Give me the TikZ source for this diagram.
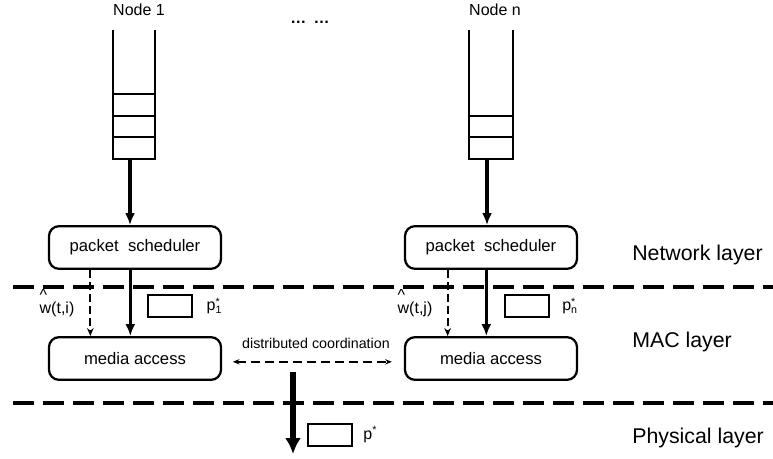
\documentclass[tikz,border=0pt]{standalone}
\usepackage{fontspec}
\setmainfont{Liberation Sans}
\usetikzlibrary{arrows.meta,positioning}

\begin{document}
\begin{tikzpicture}[x=0.75pt,y=-0.75pt]
    \tikzset{
        block/.style = {rectangle, draw, line width=1.7pt, rounded corners=7.5pt, minimum width=129pt, minimum height=32pt, font=\fontsize{12.5}{14}\selectfont},
        tag/.style = {rectangle, draw, line width=1.5pt, minimum width=33pt, minimum height=16.5pt, inner sep=0pt},
        lbl/.style = {font=\fontsize{12}{14}\selectfont, inner sep=0pt},
        layerlbl/.style = {font=\fontsize{16}{19}\selectfont, anchor=west, inner sep=0pt},
        layer/.style = {draw, line width=2.3pt, dash pattern=on 15.75pt off 6.75pt},
        queue/.style = {draw, line width=1.9pt},
        line/.style = {draw, line width=2.4pt, -{Latex[length=9pt,width=7.5pt]}},
        dline/.style = {draw, line width=1.5pt, dash pattern=on 6pt off 3pt, -{Stealth[length=6pt,width=5pt]}},
        cline/.style = {draw, line width=1.4pt, dash pattern=on 7pt off 3.5pt, {Stealth[length=5pt,width=4pt]}-{Stealth[length=5pt,width=4pt]}},
        bigline/.style = {draw, line width=5pt, -{Latex[length=12pt,width=12pt]}}
    }
    \useasboundingbox (0,0) rectangle (773,459);

    % node names and queues
    \node[lbl](n_1) at (139,10){Node 1};
    \node[lbl](n_n) at (495,10){Node n};
    \node[lbl](dots) at (310,22){\bfseries …\ \,…};

    \draw[queue] (113,30) -- (113,159) -- (155,159) -- (155,30);
    \foreach \y in {94,116,137}
        \draw[queue] (113,\y) -- (155,\y);
    \coordinate (q_1) at (130,159);

    \draw[queue] (469,30) -- (469,159) -- (513,159) -- (513,30);
    \foreach \y in {116,137}
        \draw[queue] (469,\y) -- (513,\y);
    \coordinate (q_n) at (487,159);

    % layer boundaries
    \draw[layer] (13,287) -- (773,287);
    \draw[layer] (13,403) -- (773,403);

    % blocks
    \node[block](ps_1) at (135,247.5){packet\ \ scheduler};
    \node[block](ma_1) at (135,358.5){media access};
    \node[block](ps_n) at (491,247.5){packet\ \ scheduler};
    \node[block](ma_n) at (491,358.5){media access};

    \path [line] (q_1) -- (ps_1.north -| q_1);
    \path [line] (q_n) -- (ps_n.north -| q_n);

    \path [line] ([xshift=-3.5pt]ps_1.south) -- ([xshift=-3.5pt]ma_1.north);
    \path [dline] ([xshift=-33.5pt]ps_1.south) -- ([xshift=-33.5pt]ma_1.north);
    \path [line] ([xshift=-3.5pt]ps_n.south) -- ([xshift=-3.5pt]ma_n.north);
    \path [dline] ([xshift=-32.5pt]ps_n.south) -- ([xshift=-32.5pt]ma_n.north);

    \node[lbl](w_1) at (57,303){\rlap{\raisebox{1.6ex}{\^{}}}w(t,i)};
    \node[lbl](w_n) at (415,303){\rlap{\raisebox{1.6ex}{\^{}}}w(t,j)};

    \node[tag](t_1) at (170,306){};
    \node[lbl](p_1)[right = 10pt of t_1]{p\rlap{\textsuperscript{*}}\textsubscript{1}};
    \node[tag](t_n) at (527,306){};
    \node[lbl](p_n)[right = 9pt of t_n]{p\rlap{\textsuperscript{*}}\textsubscript{n}};

    % coordination between nodes
    \node[lbl, font=\fontsize{10.7}{12}\selectfont](dc) at (316,343){distributed coordination};
    \path [cline] ([xshift=8pt,yshift=-2.5pt]ma_1.east) -- ([xshift=-9pt,yshift=-2.5pt]ma_n.west);

    % down to the physical layer
    \coordinate (phy_in) at (293,372);
    \coordinate (phy_out) at (293,454);
    \path [bigline] (phy_in) -- (phy_out);
    \node[tag](t_p) at (329.5,434.5){};
    \node[lbl](p_p)[right = 8pt of t_p]{p\textsuperscript{*}};

    \node[layerlbl](net) at (632,255){Network layer};
    \node[layerlbl](mac) at (632,342){MAC layer};
    \node[layerlbl](phy) at (632,438){Physical layer};
\end{tikzpicture}
\end{document}
